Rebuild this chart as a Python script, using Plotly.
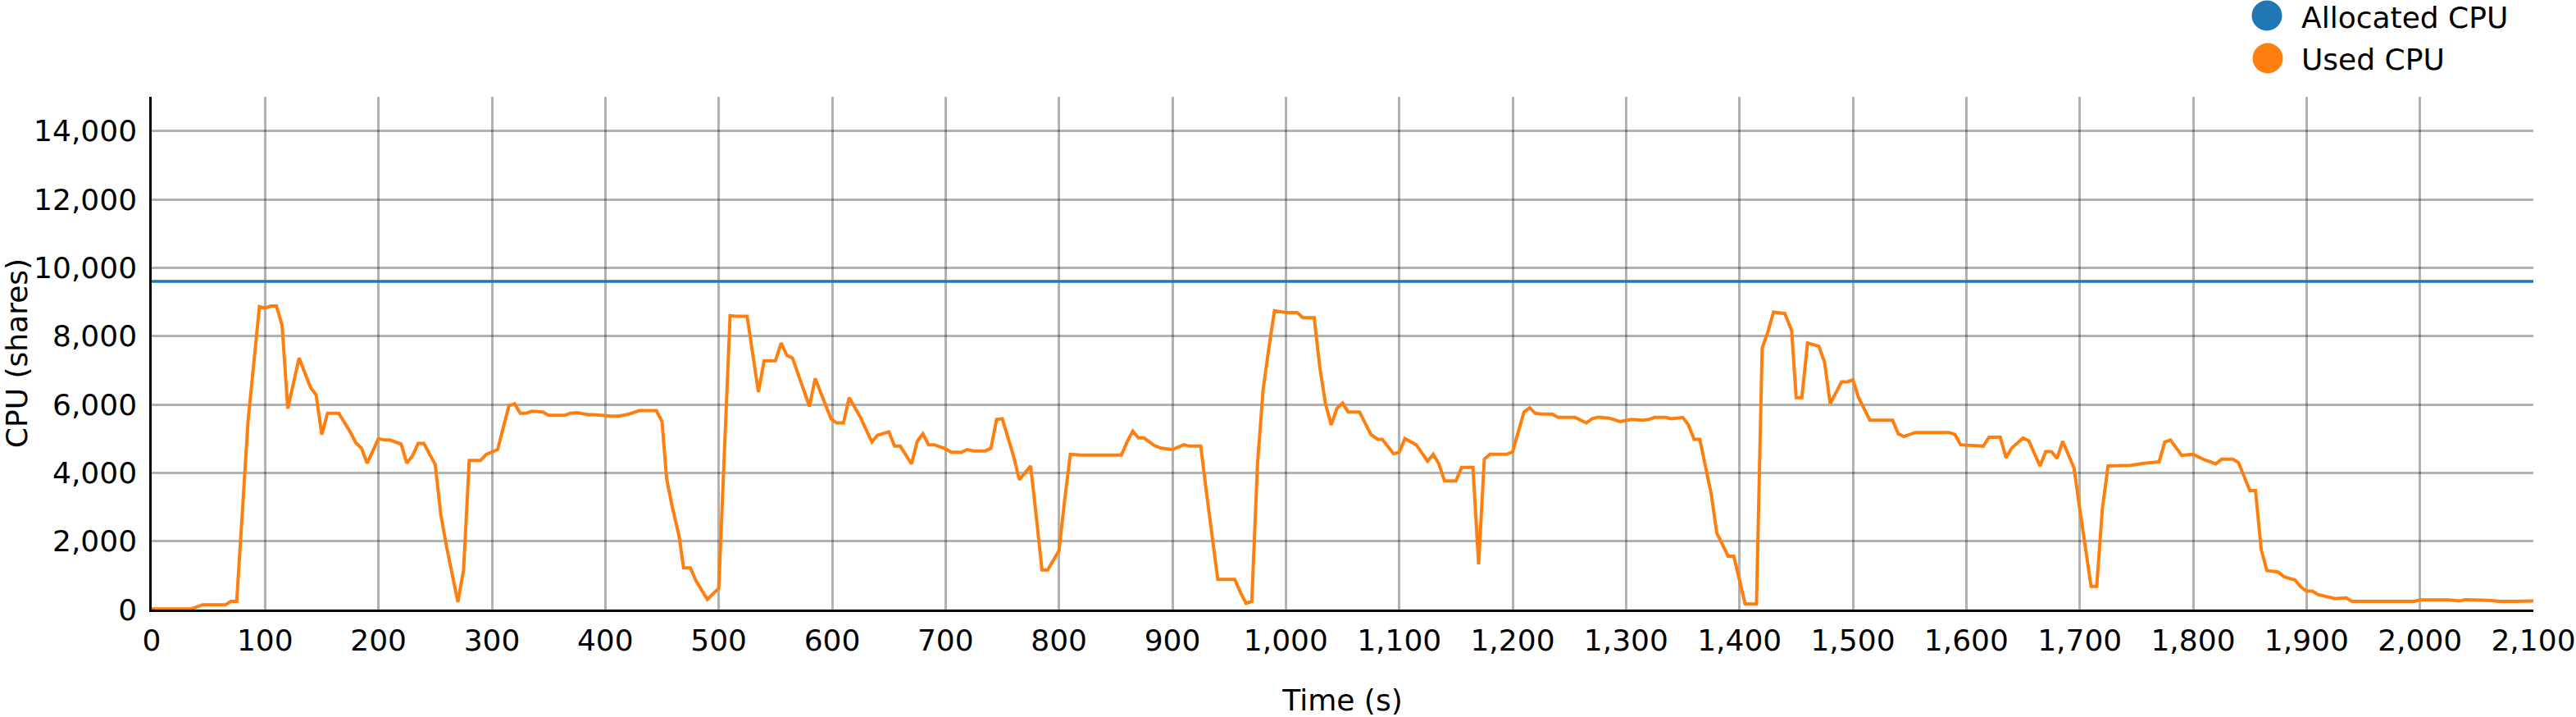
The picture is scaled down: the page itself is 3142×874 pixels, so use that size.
import plotly.graph_objects as go

# ---- data ----
time_used = [0, 35, 45, 65, 70, 75, 85, 95, 100, 105, 110, 115, 120, 130, 140, 145, 150, 155, 165, 175,
             180, 185, 190, 200, 205, 210, 220, 225, 230, 235, 240, 250, 255, 260, 270, 275, 280, 290, 295, 305,
             315, 320, 325, 330, 335, 345, 350, 364, 369, 375, 385, 390, 405, 411, 420, 425, 430, 445, 450, 454,
             459, 465, 469, 475, 480, 490, 500, 510, 515, 525, 535, 540, 550, 555, 560, 565, 580, 585, 599, 604,
             610, 615, 625, 635, 640, 650, 655, 660, 670, 675, 680, 685, 690, 700, 705, 714, 719, 725, 735, 740,
             745, 750, 760, 765, 775, 780, 785, 790, 800, 805, 810, 820, 855, 860, 865, 870, 875, 884, 890, 900,
             905, 910, 915, 925, 930, 935, 940, 955, 960, 965, 970, 975, 980, 985, 990, 1000, 1010, 1015, 1025, 1030,
             1035, 1040, 1045, 1050, 1055, 1065, 1070, 1075, 1081, 1085, 1095, 1100, 1105, 1115, 1125, 1130, 1135, 1140,
             1150, 1155, 1165, 1170, 1175, 1180, 1195, 1200, 1205, 1210, 1215, 1220, 1225, 1235, 1240, 1255, 1265, 1270,
             1275, 1285, 1295, 1305, 1315, 1320, 1325, 1335, 1340, 1350, 1355, 1360, 1365, 1370, 1375, 1380, 1385, 1390,
             1395, 1400, 1405, 1415, 1420, 1425, 1430, 1440, 1446, 1450, 1455, 1460, 1470, 1475, 1480, 1490, 1495, 1500,
             1505, 1515, 1535, 1540, 1545, 1555, 1585, 1590, 1595, 1605, 1615, 1620, 1630, 1635, 1640, 1650, 1655, 1665,
             1670, 1675, 1680, 1685, 1695, 1700, 1705, 1710, 1715, 1720, 1725, 1745, 1755, 1765, 1770, 1775, 1780, 1790,
             1800, 1810, 1820, 1825, 1835, 1840, 1845, 1850, 1855, 1860, 1865, 1875, 1880, 1890, 1895, 1900, 1905, 1910,
             1925, 1935, 1940, 1960, 1980, 1995, 2000, 2025, 2035, 2040, 2060, 2070, 2085, 2100]
used_cpu = [20, 20, 140, 140, 240, 240, 5520, 8860, 8820, 8880, 8880, 8320, 5880, 7360, 6500, 6280, 5120, 5740, 5740, 5200,
            4880, 4720, 4280, 5000, 4960, 4960, 4840, 4280, 4500, 4860, 4860, 4240, 2760, 1840, 220, 1160, 4360, 4360, 4540, 4680,
            5960, 6020, 5740, 5740, 5800, 5780, 5680, 5680, 5740, 5760, 5700, 5700, 5660, 5660, 5710, 5760, 5820, 5820, 5500, 3840,
            3000, 2160, 1220, 1220, 840, 300, 620, 8600, 8580, 8580, 6360, 7280, 7280, 7800, 7440, 7360, 5940, 6760, 5580, 5460,
            5460, 6200, 5620, 4900, 5100, 5200, 4780, 4780, 4260, 4920, 5140, 4820, 4820, 4700, 4600, 4600, 4680, 4640, 4640, 4720,
            5560, 5580, 4480, 3800, 4200, 2720, 1160, 1160, 1720, 3200, 4540, 4520, 4520, 4900, 5220, 5020, 5020, 4800, 4720, 4680,
            4760, 4820, 4780, 4780, 3440, 2160, 880, 880, 500, 180, 240, 4240, 6440, 7640, 8740, 8690, 8690, 8540, 8540, 7080,
            6020, 5400, 5880, 6040, 5780, 5780, 5440, 5120, 4980, 4980, 4560, 4600, 5000, 4820, 4340, 4540, 4260, 3760,
            3760, 4160, 4160, 1320, 4400, 4540, 4540, 4620, 5200, 5780, 5900, 5740, 5720, 5720, 5620, 5620, 5460, 5580,
            5630, 5600, 5500, 5560, 5540, 5560, 5620, 5620, 5580, 5620, 5400, 4980, 4980, 4160, 3400, 2240, 1880, 1560,
            1560, 860, 160, 160, 7640, 8120, 8700, 8660, 8160, 6200, 6200, 7800, 7700, 7240, 6020, 6660, 6660, 6720,
            6200, 5540, 5540, 5140, 5060, 5180, 5180, 5120, 4820, 4800, 4780, 5040, 5040, 4440, 4720, 5020, 4940, 4200,
            4620, 4620, 4420, 4920, 4140, 2960, 1760, 680, 680, 2960, 4200, 4220, 4270, 4300, 4320, 4900, 4960, 4510,
            4540, 4380, 4260, 4400, 4400, 4300, 3880, 3480, 3480, 1760, 1140, 1100, 960, 860, 660, 540, 540, 440,
            320, 340, 240, 240, 260, 240, 280, 280, 250, 290, 270, 240, 240, 250]

time_alloc = [0, 2100]
allocated_cpu = [9600, 9600]

series_names = ["Allocated CPU", "Used CPU"]
series_colors = ["#1f77b4", "#ff7f0e"]

FONT = "DejaVu Sans"

fig = go.Figure()
fig.add_trace(go.Scatter(x=time_alloc, y=allocated_cpu, mode="lines", name=series_names[0],
                         line=dict(color=series_colors[0], width=3.5), showlegend=False))
fig.add_trace(go.Scatter(x=time_used, y=used_cpu, mode="lines", name=series_names[1],
                         line=dict(color=series_colors[1], width=4), showlegend=False))

W, H = 3142, 874
L, R, T, B = 185, 52, 118, 131
pw, ph = W - L - R, H - T - B

def px2paper(px, py):
    return (px - L) / pw, (H - B - py) / ph

# custom legend (large circle symbols)
legend_pos = [(2765, 19), (2766, 71)]
shapes = []
annotations = []
for name, color, (cx, cy) in zip(series_names, series_colors, legend_pos):
    xp, yp = px2paper(cx, cy)
    shapes.append(dict(type="circle", xref="paper", yref="paper", xsizemode="pixel", ysizemode="pixel",
                       xanchor=xp, yanchor=yp, x0=-18.5, x1=18.5, y0=-18.5, y1=18.5,
                       fillcolor=color, line=dict(width=0)))
    tx, typ = px2paper(2805, cy + 2)
    annotations.append(dict(text=name, xref="paper", yref="paper", x=tx, y=typ, xanchor="left",
                            yanchor="middle", showarrow=False, font=dict(family=FONT, size=36, color="black")))

fig.update_layout(
    width=W, height=H, autosize=False,
    margin=dict(l=L, r=R, t=T, b=B, autoexpand=False),
    paper_bgcolor="white", plot_bgcolor="white",
    font=dict(family=FONT, size=36, color="black"),
    showlegend=False,
    shapes=shapes, annotations=annotations,
)
fig.update_xaxes(
    range=[0, 2100], tickmode="linear", tick0=0, dtick=100, tickformat=",",
    showgrid=True, gridcolor="rgba(0,0,0,0.3)", gridwidth=2.5,
    showline=True, linecolor="black", linewidth=2.5, zeroline=False,
    ticks="", ticklabelstandoff=4, automargin=False,
    title=dict(text="Time (s)", font=dict(family=FONT, size=36), standoff=42),
)
fig.update_yaxes(
    range=[0, 15000], tickmode="linear", tick0=0, dtick=2000, tickformat=",",
    showgrid=True, gridcolor="rgba(0,0,0,0.3)", gridwidth=2.5,
    showline=True, linecolor="black", linewidth=2.5, zeroline=False,
    ticks="", ticklabelstandoff=8, automargin=False,
    title=dict(text="CPU (shares)", font=dict(family=FONT, size=36), standoff=14),
)

fig.write_html("out.html", config={"displayModeBar": False},
               post_script="document.body.style.margin='0';")
